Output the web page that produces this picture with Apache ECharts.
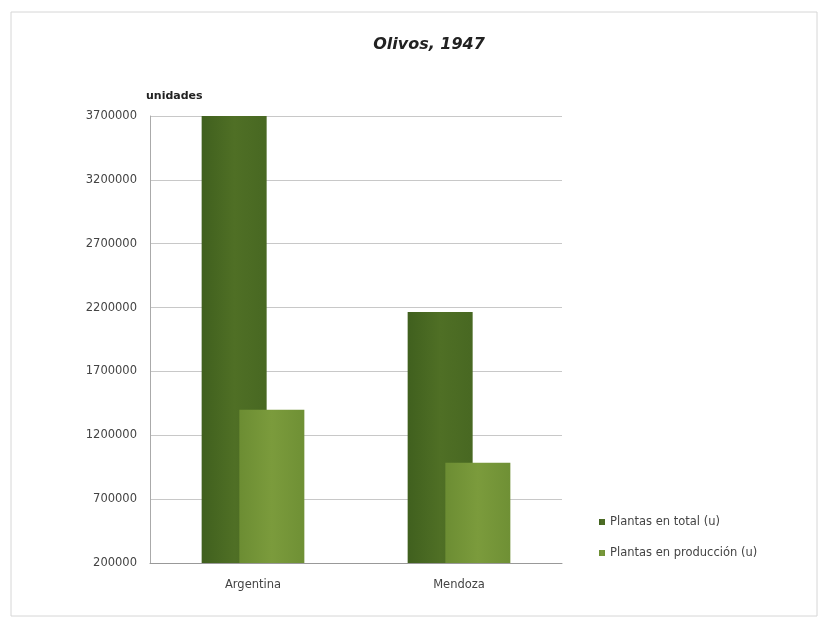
<!DOCTYPE html>
<html><head><meta charset="utf-8">
<script src="https://cdn.jsdelivr.net/npm/echarts@6/dist/echarts.min.js"></script>
<style>html,body{margin:0;padding:0;background:#fff}#c{width:828px;height:630px}</style>
</head><body><div id="c"></div>
<script>
const categories = ['Argentina', 'Mendoza'];
const seriesNames = ['Plantas en total (u)', 'Plantas en producción (u)'];
const plantasTotal = [3710000, 2165000];
const plantasProduccion = [1400000, 985000];
const chart = echarts.init(document.getElementById('c'));
const F = 'DejaVu Sans';
chart.setOption({
  backgroundColor: '#fff',
  animation: false,
  title: { text: 'Olivos, 1947', left: 424, top: 32, textAlign: 'center',
    textStyle: { fontFamily: F, fontSize: 16, fontWeight: 'bold', fontStyle: 'italic', color: '#222' } },
  graphic: [{ type: 'rect', shape: { x: 11, y: 12, width: 806, height: 604 }, style: { fill: 'none', stroke: '#d6d6d6', lineWidth: 1 } }],
  legend: { orient: 'vertical', left: 594, top: 511, itemWidth: 6, itemHeight: 6, itemGap: 19, icon: 'rect',
    textStyle: { fontFamily: F, fontSize: 11.5, color: '#444' } },
  grid: { left: 150, right: 266, top: 116, bottom: 67 },
  xAxis: { type: 'category', data: categories,
    axisLine: { lineStyle: { color: '#999' } }, axisTick: { show: false },
    axisLabel: { fontFamily: F, fontSize: 11.5, color: '#444', margin: 16 } },
  yAxis: { type: 'value', name: 'unidades', min: 200000, max: 3700000, interval: 500000,
    nameTextStyle: { fontFamily: F, fontSize: 11, fontWeight: 'bold', color: '#222', align: 'left', padding: [0, 0, 2, -4] },
    nameGap: 12,
    axisLine: { show: true, lineStyle: { color: '#aaa' } }, axisTick: { show: false },
    splitLine: { lineStyle: { color: '#c8c8c8' } },
    axisLabel: { fontFamily: F, fontSize: 11.5, color: '#444', margin: 13, formatter: v => String(v) } },
  series: [
    { name: seriesNames[0], type: 'bar', data: plantasTotal, barWidth: 65, barGap: '-42%',
      itemStyle: { color: new echarts.graphic.LinearGradient(0,0,1,0,[{offset:0,color:'#40601e'},{offset:0.5,color:'#4f6f25'},{offset:1,color:'#486822'}]) } },
    { name: seriesNames[1], type: 'bar', data: plantasProduccion, barWidth: 65,
      itemStyle: { color: new echarts.graphic.LinearGradient(0,0,1,0,[{offset:0,color:'#6c8d33'},{offset:0.5,color:'#7b9b3c'},{offset:1,color:'#6f9035'}]) } }
  ]
});
</script></body></html>
